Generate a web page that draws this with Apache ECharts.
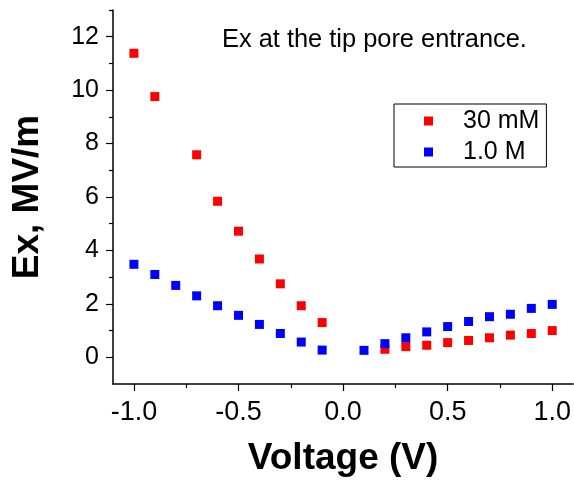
<!DOCTYPE html>
<html><head><meta charset="utf-8">
<script src="https://cdn.jsdelivr.net/npm/echarts@6/dist/echarts.min.js"></script>
<style>html,body{margin:0;padding:0;background:#fff}#c{width:574px;height:482px}</style>
</head><body><div id="c"></div>
<script>
const FONT = '"Liberation Sans", Arial, sans-serif';
const voltage30 = [-1.0,-0.9,-0.7,-0.6,-0.5,-0.4,-0.3,-0.2,-0.1,0.2,0.3,0.4,0.5,0.6,0.7,0.8,0.9,1.0];
const ex30 = [11.38,9.76,7.58,5.84,4.72,3.68,2.75,1.93,1.30,0.30,0.40,0.45,0.55,0.63,0.73,0.83,0.89,1.00];
const voltage1M = [-1.0,-0.9,-0.8,-0.7,-0.6,-0.5,-0.4,-0.3,-0.2,-0.1,0.1,0.2,0.3,0.4,0.5,0.6,0.7,0.8,0.9,1.0];
const ex1M = [3.48,3.10,2.69,2.30,1.93,1.57,1.23,0.89,0.57,0.27,0.26,0.51,0.73,0.95,1.15,1.34,1.52,1.61,1.83,1.98];
const xMajor = [-1.0,-0.5,0.0,0.5,1.0];
const xMinor = [-0.75,-0.25,0.25,0.75];
const yMajor = [0,2,4,6,8,10,12];
const yMinor = [1,3,5,7,9,11,13];

const chart = echarts.init(document.getElementById('c'));
const axisLine = {show:true, onZero:false, lineStyle:{color:'#000', width:1.5}};
chart.setOption({
  animation:false,
  backgroundColor:'#fff',
  title:{text:'Ex at the tip pore entrance.', left:222, top:27, padding:0,
    textStyle:{fontFamily:FONT, fontSize:25.4, fontWeight:'normal', color:'#000'}},
  legend:{orient:'vertical', left:394, top:104,
    padding:[4,7,2,30], itemGap:5, itemWidth:9, itemHeight:9,
    borderColor:'#000', borderWidth:1, backgroundColor:'#fff',
    textStyle:{fontFamily:FONT, fontSize:25, color:'#000', padding:[0,0,0,25], lineHeight:26},
    data:[{name:'30 mM', icon:'rect'},{name:'1.0 M', icon:'rect'}]},
  grid:{left:113, right:0, top:10, bottom:97},
  xAxis:[{type:'value', min:-1.1, max:1.1, axisLine:axisLine,
    splitLine:{show:false},
    axisTick:{show:true, customValues:xMajor, length:7, lineStyle:{color:'#000',width:1.2}},
    axisLabel:{customValues:xMajor, formatter:v=>v.toFixed(1), margin:15,
      fontFamily:FONT, fontSize:27, color:'#000'},
    name:'Voltage (V)', nameLocation:'middle', nameGap:56,
    nameTextStyle:{fontFamily:FONT, fontSize:37, fontWeight:'bold', color:'#000'}},
   {type:'value', min:-1.1, max:1.1, position:'bottom', axisLine:{show:false, onZero:false},
    splitLine:{show:false},
    axisTick:{show:true, customValues:xMinor, length:4, lineStyle:{color:'#000',width:1.2}},
    axisLabel:{show:false}}],
  yAxis:[{type:'value', min:-1, max:13, axisLine:axisLine,
    splitLine:{show:false},
    axisTick:{show:true, customValues:yMajor, length:7, lineStyle:{color:'#000',width:1.2}},
    axisLabel:{customValues:yMajor, margin:14, fontFamily:FONT, fontSize:25, color:'#000'},
    name:'Ex, MV/m', nameLocation:'middle', nameGap:67,
    nameTextStyle:{fontFamily:FONT, fontSize:37, fontWeight:'bold', color:'#000'}},
   {type:'value', min:-1, max:13, position:'left', axisLine:{show:false, onZero:false},
    splitLine:{show:false},
    axisTick:{show:true, customValues:yMinor, length:4, lineStyle:{color:'#000',width:1.2}},
    axisLabel:{show:false}}],
  series:[
    {name:'30 mM', type:'scatter', symbol:'rect', symbolSize:9, itemStyle:{color:'#ff0000', opacity:1},
     data:voltage30.map((v,i)=>[v,ex30[i]])},
    {name:'1.0 M', type:'scatter', symbol:'rect', symbolSize:9, itemStyle:{color:'#0000ff', opacity:1},
     data:voltage1M.map((v,i)=>[v,ex1M[i]])}
  ]
});
</script></body></html>
